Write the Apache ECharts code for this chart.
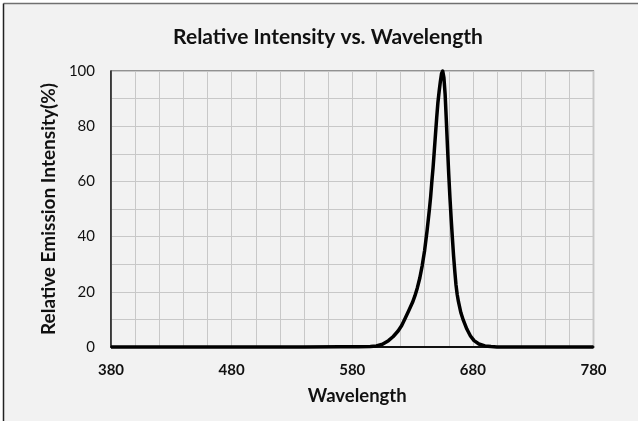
<!DOCTYPE html>
<html>
<head>
<meta charset="utf-8">
<script src="https://cdn.jsdelivr.net/npm/echarts@6/dist/echarts.min.js"></script>
<style>
html,body{margin:0;padding:0;background:#ffffff;}
#chart{width:638px;height:421px;}
</style>
</head>
<body>
<div id="chart"></div>
<script>
// Wavelength (nm) sample points
const wavelengths = [380, 420, 460, 500, 540, 570, 585, 595, 600, 605, 610, 614, 618, 621, 624, 627, 630, 632, 634, 636, 638, 640, 642, 644, 645, 646, 647, 648, 649, 650, 651, 652, 653, 654, 655, 656, 657, 658, 659, 660, 661, 662, 663, 664, 665, 666, 667, 668, 670, 672, 675, 678, 681, 685, 690, 695, 700, 740, 780];
// Relative emission intensity (%) at those wavelengths
const intensity   = [0,   0,   0,   0,   0,   0.05, 0.1, 0.2, 0.4, 1.0, 2.3, 3.8, 5.8, 7.8, 10.5, 13.3, 16.2, 18.6, 21.5, 25, 29.5, 35, 42, 50, 54.5, 60, 65, 71, 77, 83, 88.5, 92.5, 96, 99, 100, 97.5, 91.5, 82, 72, 62.5, 54, 46.5, 39.5, 33, 27.5, 22.5, 19, 16.5, 12.5, 9.8, 6.5, 4, 2.3, 1.1, 0.4, 0.15, 0, 0, 0];

const titleText = 'Relative Intensity vs. Wavelength';
const xName = 'Wavelength';
const yName = 'Relative Emission Intensity(%)';
const xMin = 380, xMax = 780, xStep = 20, xLabelStep = 100;
const yMin = 0, yMax = 100, yStep = 10, yLabelStep = 20;

const seriesData = wavelengths.map((w, i) => [w, intensity[i]]);

const chart = echarts.init(document.getElementById('chart'), null, {renderer: 'canvas'});
const font = 'Lato, "Open Sans", sans-serif';

chart.setOption({
  backgroundColor: 'transparent',
  animation: false,
  graphic: [
    {type: 'rect', z: -10, shape: {x: 3.5, y: 3.5, width: 700, height: 500}, style: {fill: '#f2f2f2'}},
    {type: 'line', z: -9, shape: {x1: 3.5, y1: 3.5, x2: 700, y2: 3.5}, style: {stroke: '#707070', lineWidth: 1.5}},
    {type: 'line', z: -9, shape: {x1: 3.5, y1: 3.5, x2: 3.5, y2: 500}, style: {stroke: '#222222', lineWidth: 1.5}}
  ],
  title: {
    text: titleText,
    left: 323, top: 22, textAlign: 'center',
    textStyle: {fontFamily: font, fontWeight: 'bold', fontSize: 21, color: '#111'}
  },
  grid: {
    left: 111, right: 44.5, top: 71, bottom: 74,
    show: true, borderColor: '#333333', borderWidth: 1.2, backgroundColor: 'transparent'
  },
  xAxis: {
    type: 'value', min: xMin, max: xMax, interval: xStep,
    name: xName, nameLocation: 'middle', nameGap: 40,
    nameTextStyle: {fontFamily: font, fontWeight: 'bold', fontSize: 18.5, color: '#111', padding: [0, 0, 0, 10]},
    axisLine: {show: true, onZero: false, lineStyle: {color: '#111', width: 2}},
    axisTick: {show: false},
    axisLabel: {
      fontFamily: font, fontWeight: 'bold', fontSize: 15, color: '#111', margin: 16,
      formatter: v => ((v - xMin) % xLabelStep === 0 ? String(v) : '')
    },
    splitLine: {show: true, lineStyle: {color: '#c8c8c8', width: 1}}
  },
  yAxis: {
    type: 'value', min: yMin, max: yMax, interval: yStep,
    name: yName, nameLocation: 'middle', nameGap: 52,
    nameTextStyle: {fontFamily: font, fontWeight: 'bold', fontSize: 19, color: '#111'},
    axisLine: {show: true, lineStyle: {color: '#222', width: 1.5}},
    axisTick: {show: false},
    axisLabel: {
      fontFamily: font, fontSize: 15, color: '#111', margin: 16,
      formatter: v => (v % yLabelStep === 0 ? String(v) : '')
    },
    splitLine: {show: true, lineStyle: {color: '#c8c8c8', width: 1}}
  },
  series: [{
    type: 'line',
    data: seriesData,
    smooth: false,
    showSymbol: false,
    lineStyle: {color: '#000', width: 3.5, join: 'round'},
    clip: false
  }]
});
</script>
</body>
</html>
